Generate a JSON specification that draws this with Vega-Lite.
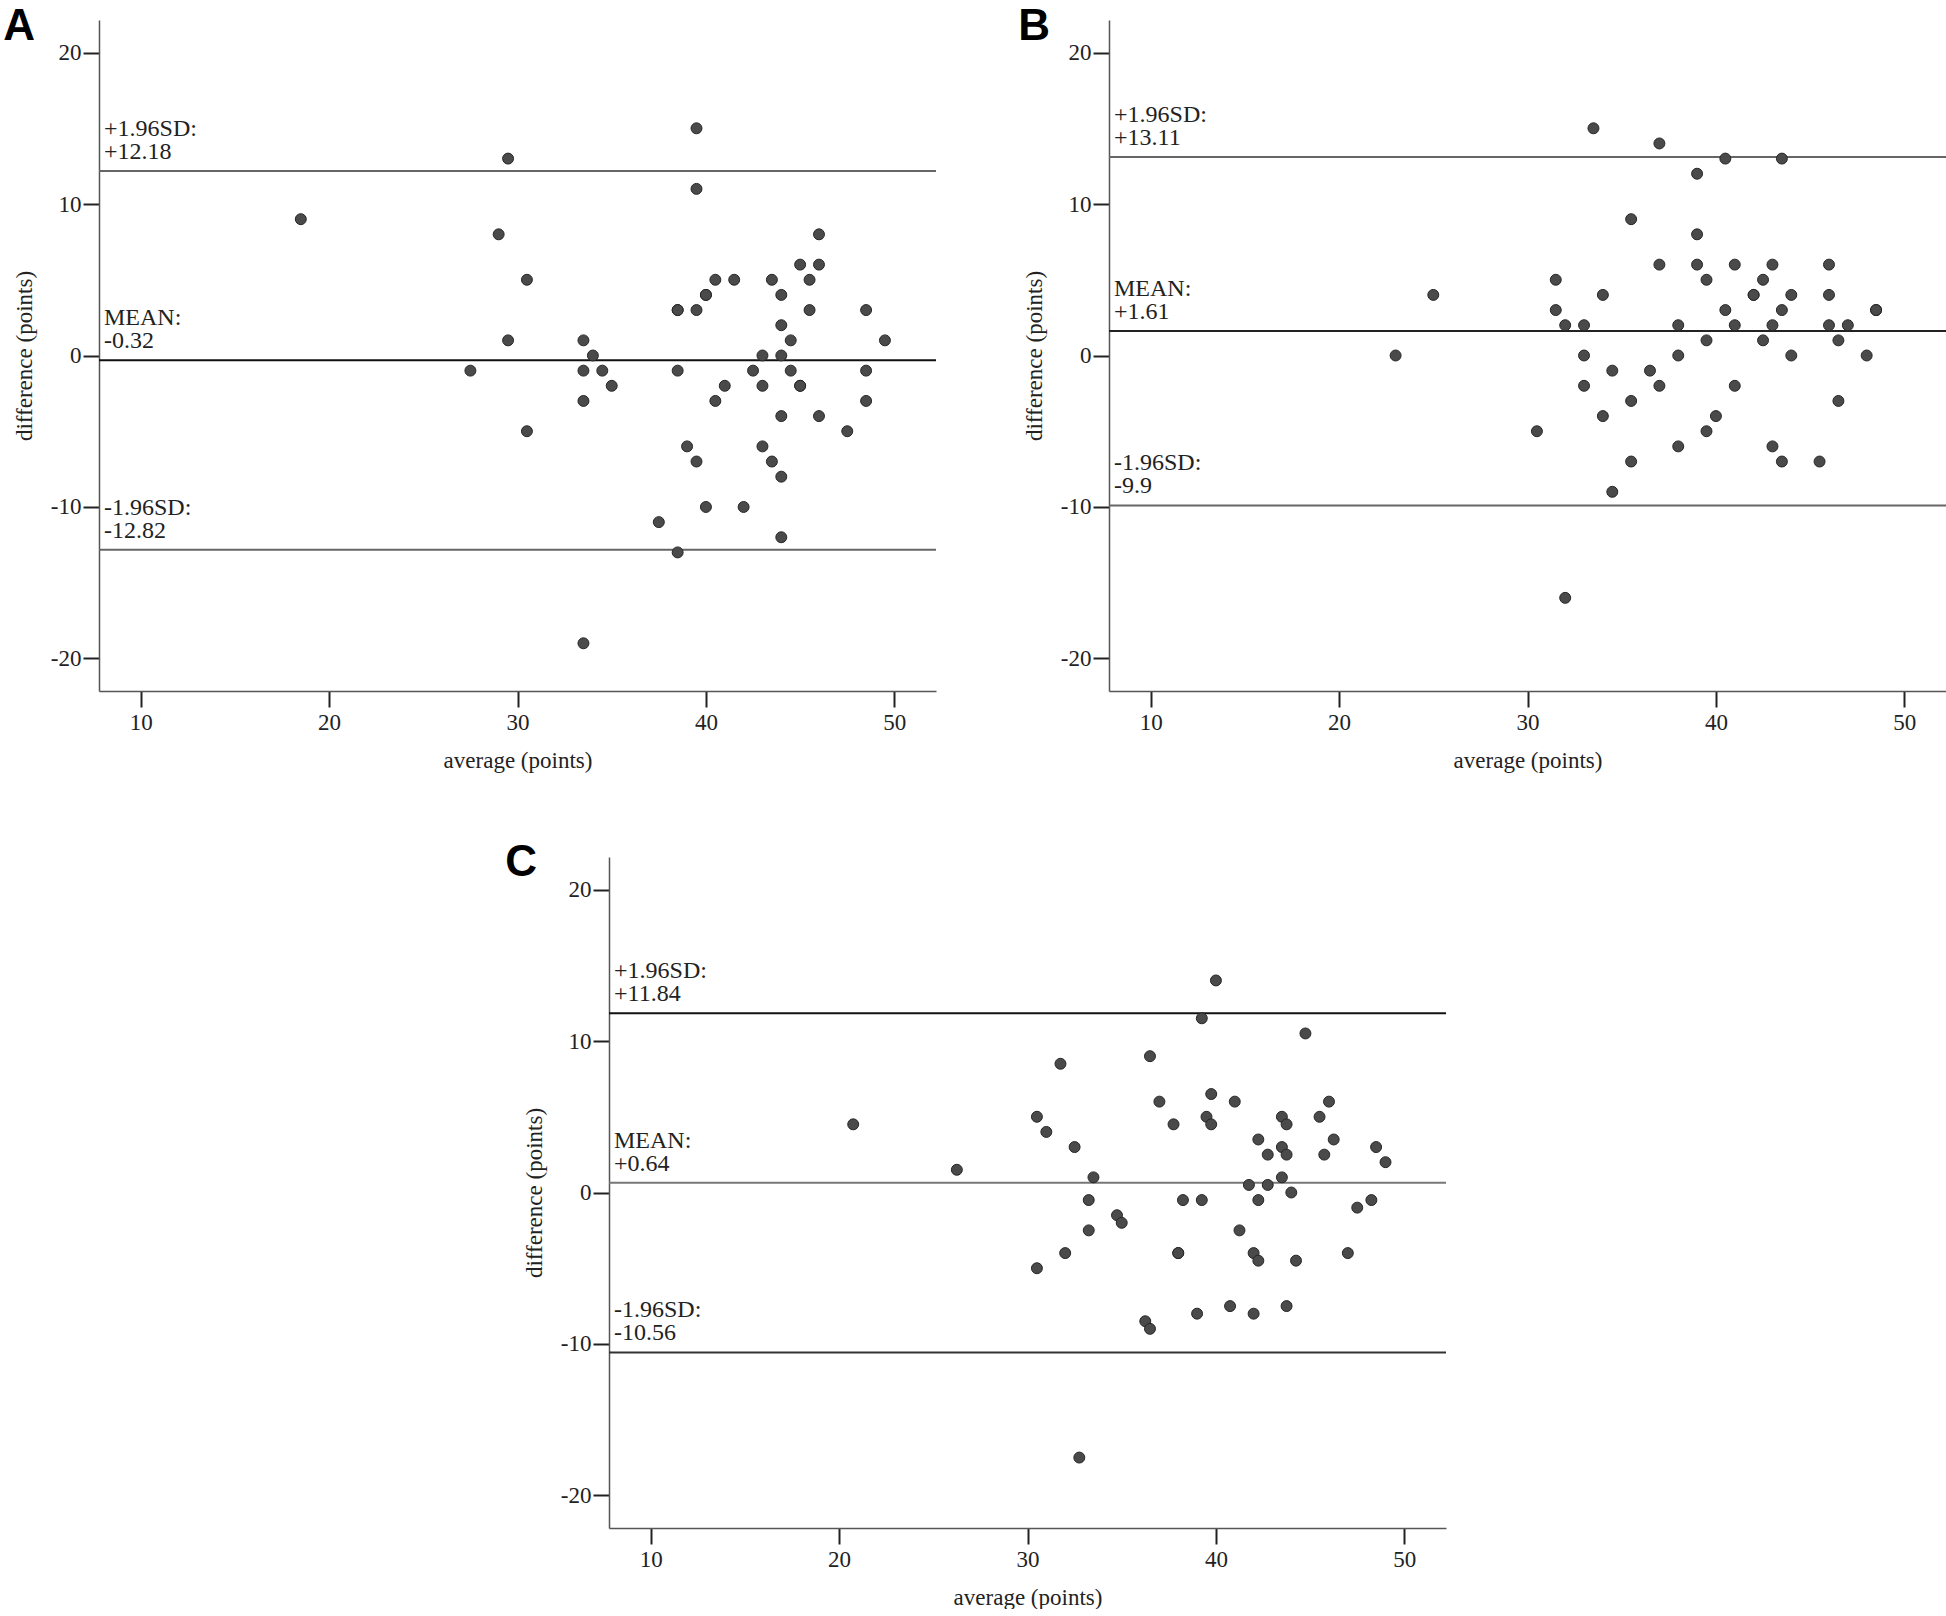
{
  "$schema": "https://vega.github.io/schema/vega-lite/v6.json",
  "background": "white",
  "padding": {"left": 3, "top": 5, "right": 0, "bottom": 0},
  "autosize": {"type": "pad"},
  "config": {
    "view": {"stroke": null, "fill": "white"},
    "font": "Liberation Serif",
    "axis": {"grid": false, "domainColor": "#555555", "domainWidth": 1.5, "tickColor": "#222222", "tickWidth": 2, "tickSize": 16, "labelFont": "Liberation Serif", "labelFontSize": 23, "labelColor": "#222222", "labelFlush": false, "labelOverlap": false, "titleFont": "Liberation Serif", "titleFontSize": 23, "titleFontWeight": "normal", "titleColor": "#222222", "labelExpr": "'' + datum.value"},
    "axisY": {"titlePadding": 14, "labelPadding": 2},
    "axisX": {"titlePadding": 15, "labelPadding": 4},
    "title": {"anchor": "start", "frame": "bounds", "baseline": "alphabetic", "fontSize": 44, "font": "Liberation Sans", "fontWeight": "bold", "color": "#000000"}
  },
  "datasets": {
    "pointsA": [
      {"average": 18.5, "difference": 9}, {"average": 29.5, "difference": 13}, {"average": 29, "difference": 8}, {"average": 30.5, "difference": 5},
      {"average": 29.5, "difference": 1}, {"average": 27.5, "difference": -1}, {"average": 30.5, "difference": -5}, {"average": 33.5, "difference": 1},
      {"average": 34, "difference": 0}, {"average": 33.5, "difference": -1}, {"average": 34.5, "difference": -1}, {"average": 35, "difference": -2},
      {"average": 33.5, "difference": -3}, {"average": 33.5, "difference": -19}, {"average": 39.5, "difference": 15}, {"average": 39.5, "difference": 11},
      {"average": 38.5, "difference": 3}, {"average": 38.5, "difference": 3}, {"average": 39.5, "difference": 3}, {"average": 40, "difference": 4},
      {"average": 40, "difference": 4}, {"average": 40.5, "difference": 5}, {"average": 41.5, "difference": 5}, {"average": 38.5, "difference": -1},
      {"average": 40.5, "difference": -3}, {"average": 41, "difference": -2}, {"average": 39, "difference": -6}, {"average": 39.5, "difference": -7},
      {"average": 40, "difference": -10}, {"average": 37.5, "difference": -11}, {"average": 38.5, "difference": -13}, {"average": 42, "difference": -10},
      {"average": 42.5, "difference": -1}, {"average": 43, "difference": 0}, {"average": 43, "difference": -2}, {"average": 43, "difference": -6},
      {"average": 43.5, "difference": -7}, {"average": 44, "difference": -8}, {"average": 44, "difference": -12}, {"average": 44, "difference": -4},
      {"average": 44, "difference": 0}, {"average": 44, "difference": 2}, {"average": 44, "difference": 4}, {"average": 43.5, "difference": 5},
      {"average": 44.5, "difference": 1}, {"average": 44.5, "difference": -1}, {"average": 45, "difference": -2}, {"average": 45, "difference": -2},
      {"average": 45, "difference": 6}, {"average": 46, "difference": 6}, {"average": 46, "difference": 8}, {"average": 45.5, "difference": 5},
      {"average": 45.5, "difference": 3}, {"average": 46, "difference": -4}, {"average": 47.5, "difference": -5}, {"average": 48.5, "difference": 3},
      {"average": 48.5, "difference": -1}, {"average": 48.5, "difference": -3}, {"average": 49.5, "difference": 1}
    ],
    "pointsB": [
      {"average": 23, "difference": 0}, {"average": 25, "difference": 4}, {"average": 30.5, "difference": -5}, {"average": 31.5, "difference": 5},
      {"average": 31.5, "difference": 3}, {"average": 32, "difference": 2}, {"average": 32, "difference": -16}, {"average": 33, "difference": 2},
      {"average": 33, "difference": 0}, {"average": 33, "difference": -2}, {"average": 33.5, "difference": 15}, {"average": 34, "difference": 4},
      {"average": 34, "difference": -4}, {"average": 34.5, "difference": -1}, {"average": 34.5, "difference": -9}, {"average": 35.5, "difference": 9},
      {"average": 35.5, "difference": -3}, {"average": 35.5, "difference": -7}, {"average": 36.5, "difference": -1}, {"average": 37, "difference": 14},
      {"average": 37, "difference": 6}, {"average": 37, "difference": -2}, {"average": 38, "difference": 2}, {"average": 38, "difference": 0},
      {"average": 38, "difference": -6}, {"average": 39, "difference": 12}, {"average": 39, "difference": 8}, {"average": 39, "difference": 6},
      {"average": 39.5, "difference": 5}, {"average": 39.5, "difference": 1}, {"average": 39.5, "difference": -5}, {"average": 40, "difference": -4},
      {"average": 40.5, "difference": 13}, {"average": 40.5, "difference": 3}, {"average": 41, "difference": 6}, {"average": 41, "difference": 2},
      {"average": 41, "difference": -2}, {"average": 42, "difference": 4}, {"average": 42, "difference": 4}, {"average": 42.5, "difference": 5},
      {"average": 42.5, "difference": 1}, {"average": 43, "difference": 6}, {"average": 43, "difference": 2}, {"average": 43, "difference": -6},
      {"average": 43.5, "difference": 13}, {"average": 43.5, "difference": 3}, {"average": 43.5, "difference": -7}, {"average": 44, "difference": 4},
      {"average": 44, "difference": 0}, {"average": 45.5, "difference": -7}, {"average": 46, "difference": 6}, {"average": 46, "difference": 4},
      {"average": 46, "difference": 2}, {"average": 46.5, "difference": 1}, {"average": 46.5, "difference": -3}, {"average": 47, "difference": 2},
      {"average": 48, "difference": 0}, {"average": 48.5, "difference": 3}, {"average": 48.5, "difference": 3}
    ],
    "pointsC": [
      {"average": 20.75, "difference": 4.5}, {"average": 26.25, "difference": 1.5}, {"average": 30.5, "difference": 5}, {"average": 30.5, "difference": -5},
      {"average": 31, "difference": 4}, {"average": 31.75, "difference": 8.5}, {"average": 32, "difference": -4}, {"average": 32.5, "difference": 3},
      {"average": 32.75, "difference": -17.5}, {"average": 33.25, "difference": -0.5}, {"average": 33.25, "difference": -2.5}, {"average": 33.5, "difference": 1},
      {"average": 34.75, "difference": -1.5}, {"average": 35, "difference": -2}, {"average": 36.25, "difference": -8.5}, {"average": 36.5, "difference": -9},
      {"average": 36.5, "difference": 9}, {"average": 37, "difference": 6}, {"average": 37.75, "difference": 4.5}, {"average": 38, "difference": -4},
      {"average": 38, "difference": -4}, {"average": 38.25, "difference": -0.5}, {"average": 39, "difference": -8}, {"average": 39.25, "difference": 11.5},
      {"average": 39.25, "difference": -0.5}, {"average": 39.5, "difference": 5}, {"average": 39.75, "difference": 6.5}, {"average": 39.75, "difference": 4.5},
      {"average": 40, "difference": 14}, {"average": 40.75, "difference": -7.5}, {"average": 41, "difference": 6}, {"average": 41.25, "difference": -2.5},
      {"average": 41.75, "difference": 0.5}, {"average": 42, "difference": -4}, {"average": 42, "difference": -8}, {"average": 42.25, "difference": 3.5},
      {"average": 42.25, "difference": -0.5}, {"average": 42.25, "difference": -4.5}, {"average": 42.75, "difference": 2.5}, {"average": 42.75, "difference": 0.5},
      {"average": 43.5, "difference": 5}, {"average": 43.5, "difference": 3}, {"average": 43.5, "difference": 1}, {"average": 43.75, "difference": 4.5},
      {"average": 43.75, "difference": 2.5}, {"average": 43.75, "difference": -7.5}, {"average": 44, "difference": 0}, {"average": 44.25, "difference": -4.5},
      {"average": 44.75, "difference": 10.5}, {"average": 45.5, "difference": 5}, {"average": 45.75, "difference": 2.5}, {"average": 46, "difference": 6},
      {"average": 46.25, "difference": 3.5}, {"average": 47, "difference": -4}, {"average": 47.5, "difference": -1}, {"average": 48.25, "difference": -0.5},
      {"average": 48.5, "difference": 3}, {"average": 49, "difference": 2}
    ],
    "linesA": [
      {"kind": "upper", "value": 12.18, "label": "+1.96SD:\n+12.18"},
      {"kind": "mean", "value": -0.32, "label": "MEAN:\n-0.32"},
      {"kind": "lower", "value": -12.82, "label": "-1.96SD:\n-12.82"}
    ],
    "linesB": [
      {"kind": "upper", "value": 13.11, "label": "+1.96SD:\n+13.11"},
      {"kind": "mean", "value": 1.61, "label": "MEAN:\n+1.61"},
      {"kind": "lower", "value": -9.9, "label": "-1.96SD:\n-9.9"}
    ],
    "linesC": [
      {"kind": "upper", "value": 11.84, "label": "+1.96SD:\n+11.84"},
      {"kind": "mean", "value": 0.64, "label": "MEAN:\n+0.64"},
      {"kind": "lower", "value": -10.56, "label": "-1.96SD:\n-10.56"}
    ]
  },
  "vconcat": [
    {
      "hconcat": [
        {
          "title": {"text": "A", "offset": -29, "dx": -10},
          "width": 837, "height": 671,
          "layer": [
            {"data": {"name": "linesA"}, "mark": {"type": "rule", "strokeWidth": 2},
             "encoding": {"y": {"field": "value", "type": "quantitative", "scale": {"domain": [-22.15, 22.15], "nice": false, "zero": false}, "axis": {"title": "difference (points)", "values": [-20, -10, 0, 10, 20]}},
                          "color": {"condition": {"test": "datum.kind === 'mean'", "value": "#111111"}, "value": "#666666"}}},
            {"data": {"name": "linesA"}, "mark": {"type": "text", "align": "left", "baseline": "bottom", "dx": 5, "dy": -30, "fontSize": 24, "lineHeight": 23, "lineBreak": "\n", "font": "Liberation Serif", "color": "#222222"},
             "encoding": {"x": {"datum": 7.79, "type": "quantitative", "scale": {"domain": [7.79, 52.21], "nice": false, "zero": false}, "axis": {"title": "average (points)", "values": [10, 20, 30, 40, 50]}},
                          "y": {"field": "value", "type": "quantitative", "scale": {"domain": [-22.15, 22.15], "nice": false, "zero": false}, "axis": {"title": "difference (points)", "values": [-20, -10, 0, 10, 20]}},
                          "text": {"field": "label"}}},
            {"data": {"name": "pointsA"}, "mark": {"type": "circle", "size": 120, "fill": "#4a4a4a", "stroke": "#262626", "strokeWidth": 1, "opacity": 1},
             "encoding": {"x": {"field": "average", "type": "quantitative", "scale": {"domain": [7.79, 52.21], "nice": false, "zero": false}, "axis": {"title": "average (points)", "values": [10, 20, 30, 40, 50]}},
                          "y": {"field": "difference", "type": "quantitative", "scale": {"domain": [-22.15, 22.15], "nice": false, "zero": false}, "axis": {"title": "difference (points)", "values": [-20, -10, 0, 10, 20]}}}}
          ]
        },
        {
          "title": {"text": "B", "offset": -29, "dx": -5},
          "width": 837, "height": 671,
          "layer": [
            {"data": {"name": "linesB"}, "mark": {"type": "rule", "strokeWidth": 2},
             "encoding": {"y": {"field": "value", "type": "quantitative", "scale": {"domain": [-22.15, 22.15], "nice": false, "zero": false}, "axis": {"title": "difference (points)", "values": [-20, -10, 0, 10, 20]}},
                          "color": {"condition": {"test": "datum.kind === 'mean'", "value": "#222222"}, "value": "#666666"}}},
            {"data": {"name": "linesB"}, "mark": {"type": "text", "align": "left", "baseline": "bottom", "dx": 5, "dy": -30, "fontSize": 24, "lineHeight": 23, "lineBreak": "\n", "font": "Liberation Serif", "color": "#222222"},
             "encoding": {"x": {"datum": 7.79, "type": "quantitative", "scale": {"domain": [7.79, 52.21], "nice": false, "zero": false}, "axis": {"title": "average (points)", "values": [10, 20, 30, 40, 50]}},
                          "y": {"field": "value", "type": "quantitative", "scale": {"domain": [-22.15, 22.15], "nice": false, "zero": false}, "axis": {"title": "difference (points)", "values": [-20, -10, 0, 10, 20]}},
                          "text": {"field": "label"}}},
            {"data": {"name": "pointsB"}, "mark": {"type": "circle", "size": 120, "fill": "#4a4a4a", "stroke": "#262626", "strokeWidth": 1, "opacity": 1},
             "encoding": {"x": {"field": "average", "type": "quantitative", "scale": {"domain": [7.79, 52.21], "nice": false, "zero": false}, "axis": {"title": "average (points)", "values": [10, 20, 30, 40, 50]}},
                          "y": {"field": "difference", "type": "quantitative", "scale": {"domain": [-22.15, 22.15], "nice": false, "zero": false}, "axis": {"title": "difference (points)", "values": [-20, -10, 0, 10, 20]}}}}
          ]
        }
      ],
      "spacing": 81
    },
    {
      "hconcat": [
        {
          "width": 406, "height": 1,
          "data": {"values": []},
          "mark": {"type": "point", "opacity": 0},
          "encoding": {}
        },
        {
          "title": {"text": "C", "offset": -28, "dx": -18},
          "width": 837, "height": 671,
          "layer": [
            {"data": {"name": "linesC"}, "mark": {"type": "rule", "strokeWidth": 2},
             "encoding": {"y": {"field": "value", "type": "quantitative", "scale": {"domain": [-22.15, 22.15], "nice": false, "zero": false}, "axis": {"title": "difference (points)", "values": [-20, -10, 0, 10, 20]}},
                          "color": {"condition": [{"test": "datum.kind === 'mean'", "value": "#777777"}, {"test": "datum.kind === 'upper'", "value": "#111111"}], "value": "#333333"}}},
            {"data": {"name": "linesC"}, "mark": {"type": "text", "align": "left", "baseline": "bottom", "dx": 5, "dy": -30, "fontSize": 24, "lineHeight": 23, "lineBreak": "\n", "font": "Liberation Serif", "color": "#222222"},
             "encoding": {"x": {"datum": 7.79, "type": "quantitative", "scale": {"domain": [7.79, 52.21], "nice": false, "zero": false}, "axis": {"title": "average (points)", "values": [10, 20, 30, 40, 50]}},
                          "y": {"field": "value", "type": "quantitative", "scale": {"domain": [-22.15, 22.15], "nice": false, "zero": false}, "axis": {"title": "difference (points)", "values": [-20, -10, 0, 10, 20]}},
                          "text": {"field": "label"}}},
            {"data": {"name": "pointsC"}, "mark": {"type": "circle", "size": 120, "fill": "#4a4a4a", "stroke": "#262626", "strokeWidth": 1, "opacity": 1},
             "encoding": {"x": {"field": "average", "type": "quantitative", "scale": {"domain": [7.79, 52.21], "nice": false, "zero": false}, "axis": {"title": "average (points)", "values": [10, 20, 30, 40, 50]}},
                          "y": {"field": "difference", "type": "quantitative", "scale": {"domain": [-22.15, 22.15], "nice": false, "zero": false}, "axis": {"title": "difference (points)", "values": [-20, -10, 0, 10, 20]}}}}
          ]
        }
      ],
      "spacing": 0
    }
  ],
  "spacing": 69
}
